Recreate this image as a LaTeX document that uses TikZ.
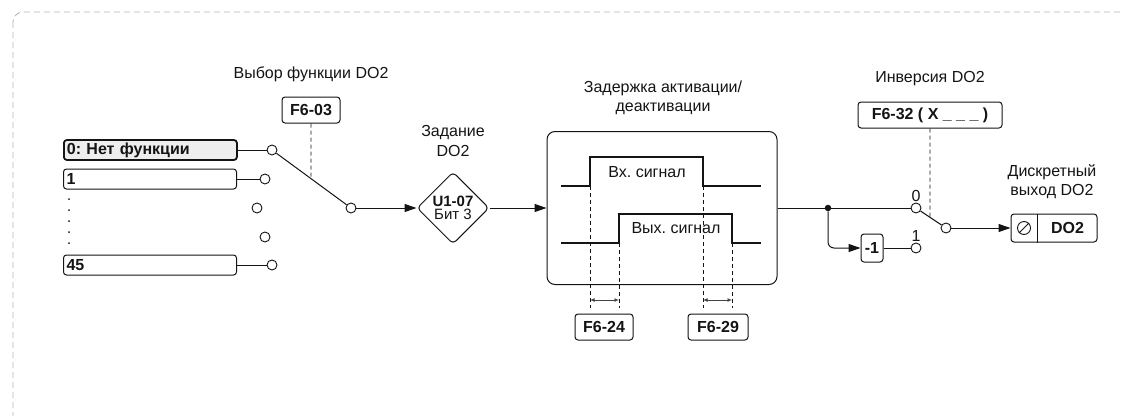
\documentclass[tikz,border=0pt]{standalone}
\usepackage{fontspec}
\setmainfont{Liberation Sans}
\frenchspacing
\usetikzlibrary{arrows.meta,positioning,calc,shapes.geometric}
\definecolor{frame}{HTML}{B4B4B4}
\definecolor{selfill}{HTML}{EEEEEE}
\definecolor{ink}{HTML}{141414}
\newcommand{\txtfont}{\fontsize{16}{19}\selectfont}
\tikzset{
  every node/.style={font=\txtfont,text=ink},
  parbox/.style={draw=ink,line width=1pt,rounded corners=3pt,minimum height=26pt,
                 inner sep=2pt,font=\txtfont\bfseries},
  selbox/.style={parbox,anchor=west,minimum height=20pt,text width=167pt,
                 inner xsep=3pt,align=left},
  contact/.style={circle,draw=ink,fill=white,line width=0.9pt,minimum size=10pt,inner sep=0pt},
  wire/.style={draw=ink,line width=1pt},
  flow/.style={wire,-{Triangle[length=12pt,width=8pt]}},
  ctrl/.style={draw=ink,line width=0.9pt,dash pattern=on 4pt off 3pt},
  pulse/.style={draw=ink,line width=2.2pt},
  delayspan/.style={draw=ink!80,line width=1pt,
                    {Latex[length=4.5pt,width=4pt]}-{Latex[length=4.5pt,width=4pt]}},
}

\begin{document}
\begin{tikzpicture}[x=1pt,y=-1pt]
  \useasboundingbox (0,0) rectangle (1124,415);
  % outer frame, runs off the right and bottom edges
  \draw[frame,line width=0.9pt,dash pattern=on 6pt off 4pt,rounded corners=10pt]
    (13,12) rectangle (1190,470);

  % function selector
  \node[selbox,fill=selfill,line width=1.8pt] (opt0) at (63,150) {0: Нет функции};
  \node[selbox] (opt1) at (63,179) {1};
  \node[selbox] (opt45) at (63,265) {45};
  \foreach \yy in {199,210,...,243}
    \fill[ink] (69,\yy) circle (1pt);
  \node[contact] (c0) at (272,150) {};
  \node[contact] (c1) at (265,179) {};
  \node[contact] (c2) at (257,208) {};
  \node[contact] (c3) at (265,237) {};
  \node[contact] (c45) at (272,265) {};
  \node[contact] (csel) at (351,208) {};
  \draw[wire] (opt0.east) -- (c0);
  \draw[wire] (opt1.east) -- (c1);
  \draw[wire] (opt45.east) -- (c45);
  \draw[wire] (c0) -- (csel);
  \node (selttl) at (311,74) {Выбор функции DO2};
  \node[parbox,minimum width=58pt] (f603) at (311,110) {F6-03};
  \coordinate (lev0) at ($(c0)!0.494!(csel)$);
  \draw[ctrl] (f603.south) -- (lev0);

  % setpoint bit
  \node[align=center,font=\fontsize{16}{20}\selectfont] (bitttl) at (453,141) {Задание\\DO2};
  \node[diamond,draw=ink,line width=1pt,rounded corners=4pt,minimum width=72pt,
        minimum height=72pt,inner sep=0pt,align=center,
        font=\fontsize{15}{13}\selectfont] (bit) at (453,208) {\textbf{U1-07}\\Бит 3};
  \draw[flow] (csel) -- (bit);

  % on/off delay
  \node[align=center] (dlyttl) at (663,98) {Задержка активации/\\деактивации};
  \node[draw=ink,line width=1pt,rounded corners=8pt,minimum width=230pt,
        minimum height=153pt] (dly) at (662,208) {};
  \draw[flow] (bit) -- (dly);
  \draw[pulse] (561,186) -- (590,186) -- (590,157) -- (703,157) -- (703,186) -- (761,186);
  \draw[pulse] (561,243) -- (619,243) -- (619,214) -- (732,214) -- (732,243) -- (761,243);
  \node (sigin) at (647,172) {Вх. сигнал};
  \node (sigout) at (676,228) {Вых. сигнал};
  \foreach \xx/\yy in {590/186,619/243,703/186,732/243}
    \draw[ctrl,line width=0.8pt] (\xx,\yy) -- (\xx,308);
  \draw[delayspan] (590,300) -- (619,300);
  \draw[delayspan] (703,300) -- (732,300);
  \node[parbox,minimum width=58pt] (f624) at (604,327) {F6-24};
  \node[parbox,minimum width=60pt] (f629) at (718,327) {F6-29};

  % inversion
  \node[circle,fill=ink,inner sep=0pt,minimum size=6.5pt] (jn) at (828,208) {};
  \node[contact] (c0r) at (916,208) {};
  \node[contact] (c1r) at (916,248) {};
  \node[contact] (cinv) at (946,228) {};
  \node[parbox,minimum width=22pt,minimum height=28pt,inner sep=1pt] (neg) at (872,248) {-1};
  \draw[wire] (dly) -- (jn) -- (c0r);
  \draw[flow,rounded corners=6pt] (jn) |- (neg);
  \draw[wire] (neg) -- (c1r);
  \node[above=0pt of c0r,inner sep=1pt] (lbl0) {0};
  \node[above=0pt of c1r,inner sep=1pt] (lbl1) {1};
  \draw[wire] (c0r) -- (cinv);
  \node (invttl) at (930,79) {Инверсия DO2};
  \node[parbox,minimum width=144pt] (f632) at (930,115) {F6-32 ( X \_ \_ \_ )};
  \coordinate (lev1) at ($(c0r)!0.467!(cinv)$);
  \draw[ctrl] (f632.south) -- (lev1);

  % digital output
  \node[align=center] (doutttl) at (1052,182) {Дискретный\\выход DO2};
  \node[parbox,minimum width=86pt,minimum height=28pt] (do2) at (1054,228) {};
  \draw[wire] ($(do2.north west)+(27,0)$) -- ($(do2.south west)+(27,0)$);
  \node[circle,draw=ink,line width=0.9pt,minimum size=13pt,inner sep=0pt] (dosym)
    at ($(do2.west)+(13.5,0)$) {};
  \draw[wire] (dosym.north east) -- (dosym.south west);
  \node[font=\txtfont\bfseries] (doname) at ($(do2.center)+(13.5,0)$) {DO2};
  \draw[flow] (cinv) -- (do2);
\end{tikzpicture}
\end{document}
